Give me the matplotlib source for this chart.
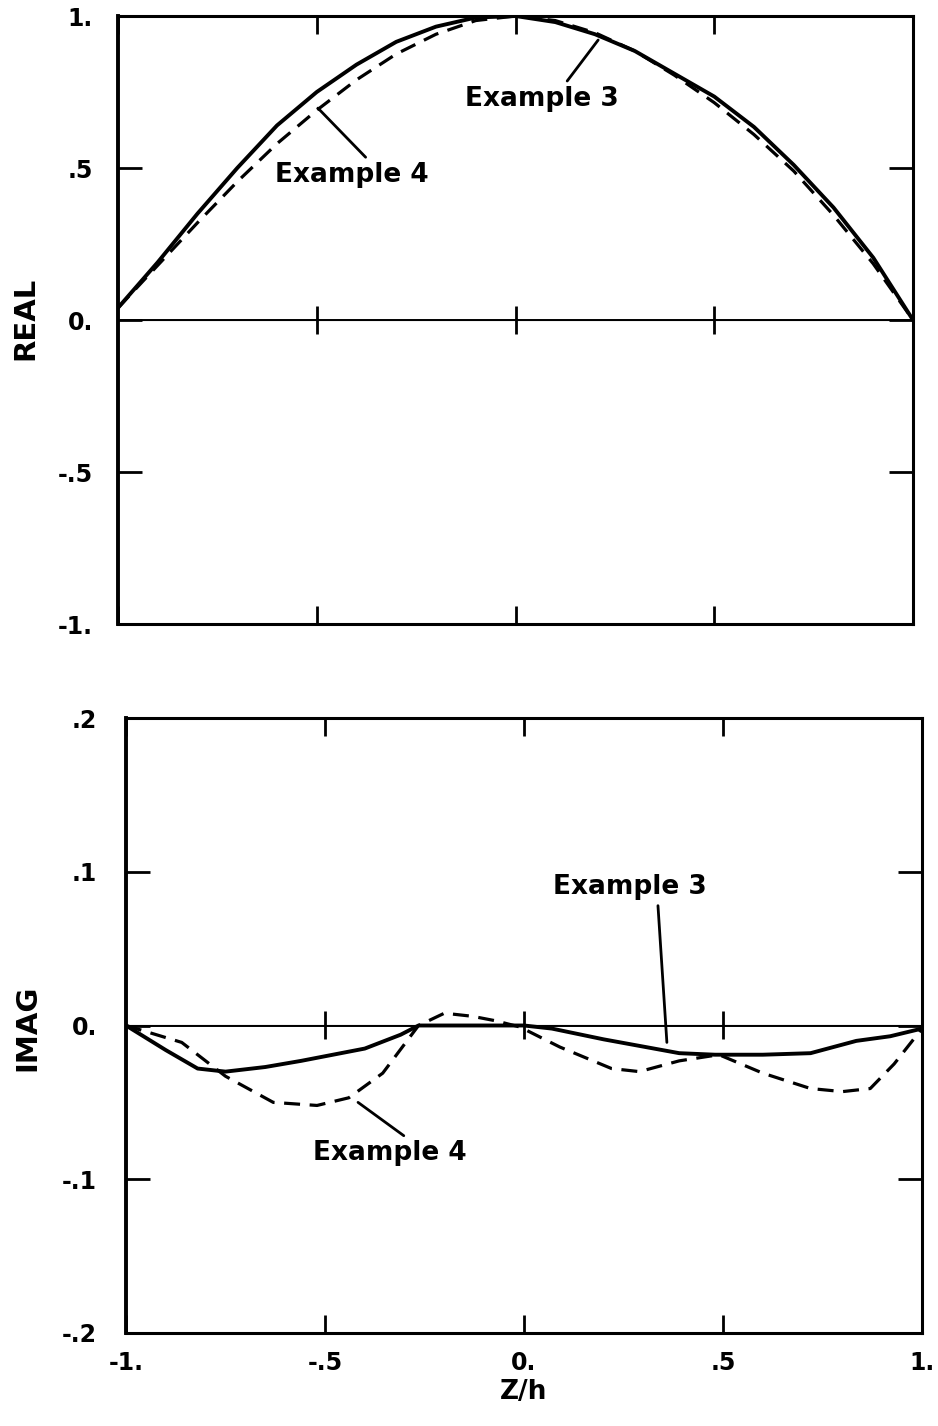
import matplotlib
matplotlib.use("Agg")
import matplotlib.pyplot as plt

# ---------------- data ----------------
z_real = [-1.0, -0.9, -0.8, -0.7, -0.6, -0.5, -0.4, -0.3, -0.2, -0.1, 0.0,
          0.1, 0.2, 0.3, 0.4, 0.5, 0.6, 0.7, 0.8, 0.9, 1.0]
real_ex3 = [0.04, 0.19, 0.35, 0.50, 0.64, 0.75, 0.84, 0.915, 0.965, 0.995, 1.0,
            0.98, 0.94, 0.885, 0.81, 0.735, 0.635, 0.51, 0.37, 0.205, 0.0]
real_ex4 = [0.04, 0.18, 0.32, 0.455, 0.58, 0.69, 0.79, 0.875, 0.94, 0.985, 1.0,
            0.985, 0.945, 0.885, 0.805, 0.715, 0.61, 0.49, 0.345, 0.185, 0.0]

z_im3 = [-1.0, -0.9, -0.82, -0.75, -0.65, -0.56, -0.4, -0.31, -0.265, 0.0, 0.07,
         0.2, 0.39, 0.48, 0.6, 0.72, 0.835, 0.92, 1.0]
imag_ex3 = [0.0, -0.016, -0.028, -0.030, -0.027, -0.023, -0.015, -0.006, 0.0, 0.0, -0.002,
            -0.009, -0.018, -0.019, -0.019, -0.018, -0.010, -0.007, -0.002]

z_im4 = [-1.0, -0.86, -0.75, -0.63, -0.52, -0.44, -0.355, -0.265, -0.2, -0.13, -0.07,
         -0.01, 0.09, 0.22, 0.29, 0.39, 0.49, 0.6, 0.72, 0.8, 0.87, 0.93, 1.0]
imag_ex4 = [0.0, -0.011, -0.033, -0.050, -0.052, -0.047, -0.031, 0.0, 0.008, 0.006, 0.003,
            -0.001, -0.014, -0.028, -0.030, -0.023, -0.019, -0.031, -0.041, -0.043, -0.041, -0.025, -0.002]

x_ticks = [-1.0, -0.5, 0.0, 0.5, 1.0]
x_ticklabels = ["-1.", "-.5", "0.", ".5", "1."]
real_yticks = [-1.0, -0.5, 0.0, 0.5, 1.0]
real_yticklabels = ["-1.", "-.5", "0.", ".5", "1."]
imag_yticks = [-0.2, -0.1, 0.0, 0.1, 0.2]
imag_yticklabels = ["-.2", "-.1", "0.", ".1", ".2"]

# ---------------- figure ----------------
plt.rcParams['font.family'] = ['DejaVu Sans']
plt.rcParams['font.weight'] = 'bold'

W, H = 938, 1426
fig = plt.figure(figsize=(W / 100, H / 100), dpi=100)

def px_axes(l, t, r, b):
    return [l / W, 1 - b / H, (r - l) / W, (b - t) / H]

ax1 = fig.add_axes(px_axes(118, 16, 913, 624))
ax2 = fig.add_axes(px_axes(126, 718, 922, 1333))

SPINE_LW = 2.2
CURVE_LW = 2.8
DASH_LW = 2.3
TICK_FS = 17
NOTE_FS = 19

def style(ax, yticks, yticklabels, ypad, show_x):
    ax.set_xlim(-1, 1)
    ax.set_ylim(yticks[0], yticks[-1])
    for s in ax.spines.values():
        s.set_linewidth(SPINE_LW)
    ax.spines['left'].set_linewidth(2.8)
    ax.set_xticks(x_ticks)
    ax.set_yticks(yticks)
    ax.set_yticklabels(yticklabels, fontsize=TICK_FS, fontweight='bold')
    if show_x:
        ax.set_xticklabels(x_ticklabels, fontsize=TICK_FS, fontweight='bold')
    else:
        ax.set_xticklabels([])
    ax.tick_params(axis='x', direction='in', top=True, bottom=True,
                   length=13, width=2.0, pad=13)
    ax.tick_params(axis='y', direction='in', left=True, right=True,
                   length=17, width=2.0, pad=ypad)
    ax.axhline(0, color='black', lw=1.4, zorder=1)
    sec = ax.secondary_xaxis(0.5)
    sec.set_xticks([-0.5, 0.0, 0.5])
    sec.set_xticklabels([])
    sec.spines['bottom'].set_visible(False)
    sec.tick_params(direction='inout', length=20, width=2.0)

def note(ax, text, xy, xytext, relpos):
    ax.annotate(text, xy=xy, xytext=xytext,
                fontsize=NOTE_FS, fontweight='bold', ha='left', va='center',
                arrowprops=dict(arrowstyle='-', lw=2.0, color='black',
                                shrinkA=2, shrinkB=0, relpos=relpos))

# Top: REAL
style(ax1, real_yticks, real_yticklabels, ypad=18, show_x=False)
ax1.plot(z_real, real_ex3, color='black', lw=CURVE_LW, solid_capstyle='round')
ax1.plot(z_real, real_ex4, color='black', lw=DASH_LW, dashes=(5, 3))

note(ax1, "Example 3", xy=(0.208, 0.921), xytext=(-0.127, 0.727), relpos=(0.64, 1.0))
note(ax1, "Example 4", xy=(-0.497, 0.697), xytext=(-0.605, 0.477), relpos=(0.62, 1.0))

fig.text(25 / W, 1 - 318 / H, "REAL", rotation=90, fontsize=21,
         fontweight='bold', ha='center', va='center')

# Bottom: IMAG
style(ax2, imag_yticks, imag_yticklabels, ypad=21, show_x=True)
ax2.plot(z_im3, imag_ex3, color='black', lw=CURVE_LW, solid_capstyle='round')
ax2.plot(z_im4, imag_ex4, color='black', lw=DASH_LW, dashes=(5, 3))

note(ax2, "Example 3", xy=(0.359, -0.011), xytext=(0.073, 0.090), relpos=(0.68, 0.0))
note(ax2, "Example 4", xy=(-0.417, -0.050), xytext=(-0.530, -0.083), relpos=(0.63, 1.0))

ax2.set_xlabel("Z/h", fontsize=19, fontweight='bold', labelpad=3)
fig.text(27 / W, 1 - 1028 / H, "IMAG", rotation=90, fontsize=21,
         fontweight='bold', ha='center', va='center')

fig.savefig("out.png", dpi=100)
